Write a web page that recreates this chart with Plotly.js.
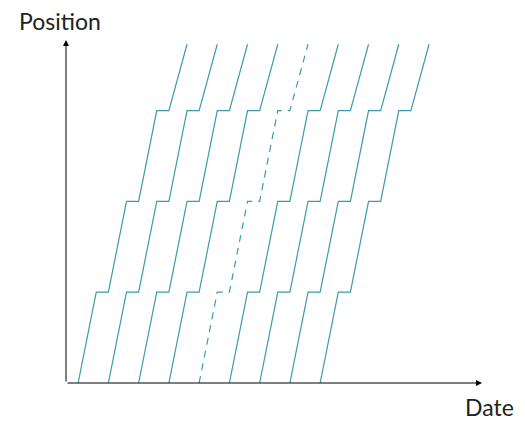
<!DOCTYPE html>
<html>
<head>
<meta charset="utf-8">
<script src="https://cdn.plot.ly/plotly-3.0.1.min.js"></script>
<style>html,body{margin:0;padding:0;background:#fff;}#chart{width:525px;height:421px;}</style>
</head>
<body>
<div id="chart"></div>
<script>
// Positions of each train along its path (station levels)
const positions = [0, 1, 1, 2, 2, 3, 3, 3.73];
// Times (minutes) of each train at those positions
const train1 = [4, 10, 14, 20, 24, 30, 34, 40];
const train2 = [14, 20, 24, 30, 34, 40, 44, 50];
const train3 = [24, 30, 34, 40, 44, 50, 54, 60];
const train4 = [34, 40, 44, 50, 54, 60, 64, 70];
const train5 = [44, 50, 54, 60, 64, 70, 74, 80];
const train6 = [54, 60, 64, 70, 74, 80, 84, 90];
const train7 = [64, 70, 74, 80, 84, 90, 94, 100];
const train8 = [74, 80, 84, 90, 94, 100, 104, 110];
const train9 = [84, 90, 94, 100, 104, 110, 114, 120];
const trains = [train1, train2, train3, train4, train5, train6, train7, train8, train9];
const dashed = [false, false, false, false, true, false, false, false, false];
const xLabel = "Date";
const yLabel = "Position";

const color = "#3a9bb0";
const traces = trains.map((t, i) => ({
  x: t, y: positions, type: "scatter", mode: "lines",
  line: {color: color, width: 1.2, dash: dashed[i] ? "7px,6px" : "solid"},
  hoverinfo: "skip", showlegend: false
}));

const L = 66, R = 43, T = 40, B = 38;
const plotW = 525 - L - R, plotH = 421 - T - B;
const axStyle = {showgrid: false, zeroline: false, showline: false, showticklabels: false, ticks: "", fixedrange: true};

const layout = {
  width: 525, height: 421,
  margin: {l: L, r: R, t: T, b: B, pad: 0},
  paper_bgcolor: "#fff", plot_bgcolor: "#fff",
  showlegend: false,
  xaxis: Object.assign({range: [0, 137.5]}, axStyle),
  yaxis: Object.assign({range: [0, 3.777]}, axStyle),
  annotations: [
    {xref: "paper", yref: "paper", x: 1, y: 0, ax: -plotW, ay: 0, axref: "pixel", ayref: "pixel",
     showarrow: true, text: "", arrowhead: 2, arrowsize: 1.2, arrowwidth: 1, arrowcolor: "#000"},
    {xref: "paper", yref: "paper", x: 0, y: 1, ax: 0, ay: plotH, axref: "pixel", ayref: "pixel",
     showarrow: true, text: "", arrowhead: 2, arrowsize: 1.2, arrowwidth: 1, arrowcolor: "#000"},
    {xref: "paper", yref: "paper", x: (60 - L) / plotW, y: (383 - 21) / plotH, xanchor: "center", yanchor: "middle",
     showarrow: false, text: yLabel, borderpad: 0, font: {family: "Lato, sans-serif", size: 23, color: "#222"}},
    {xref: "paper", yref: "paper", x: (489 - L) / plotW, y: (383 - 407) / plotH, xanchor: "center", yanchor: "middle",
     showarrow: false, text: xLabel, borderpad: 0, font: {family: "Lato, sans-serif", size: 23, color: "#222"}}
  ]
};

Plotly.newPlot("chart", traces, layout, {displayModeBar: false, staticPlot: true});
</script>
</body>
</html>
